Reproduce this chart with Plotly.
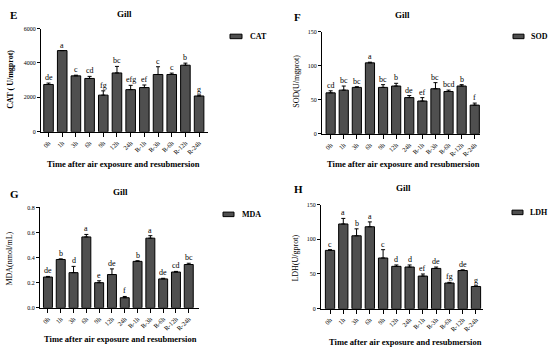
import plotly.graph_objects as go

categories = ["0h", "1h", "3h", "6h", "9h", "12h", "24h", "R-1h", "R-3h", "R-6h", "R-12h", "R-24h"]

cat_vals = [2750, 4720, 3250, 3100, 2130, 3420, 2450, 2570, 3330, 3330, 3870, 2080]
cat_err = [80, 0, 40, 120, 250, 380, 250, 150, 450, 80, 120, 60]
cat_sig = ["de", "a", "c", "cd", "fg", "bc", "efg", "ef", "c", "c", "b", "g"]

sod_vals = [60, 64, 68, 104, 68, 70, 53, 48, 66, 62, 70, 42]
sod_err = [3, 6, 1, 1, 4, 4, 3, 5, 9, 2, 2, 3]
sod_sig = ["cd", "bc", "bc", "a", "bc", "b", "de", "ef", "bc", "bcd", "b", "f"]

mda_vals = [0.245, 0.385, 0.28, 0.565, 0.2, 0.265, 0.08, 0.37, 0.555, 0.23, 0.285, 0.345]
mda_err = [0.005, 0.005, 0.05, 0.02, 0.015, 0.045, 0.01, 0.005, 0.02, 0.005, 0.005, 0.01]
mda_sig = ["de", "b", "d", "a", "e", "de", "f", "b", "a", "de", "cd", "bc"]

ldh_vals = [84, 122, 105, 118, 73, 61, 60, 47, 58, 37, 55, 32]
ldh_err = [1, 8, 10, 7, 12, 2, 3, 3, 2, 1, 1, 1]
ldh_sig = ["c", "a", "b", "a", "c", "d", "d", "ef", "de", "fg", "de", "g"]

series_names = ["CAT", "SOD", "MDA", "LDH"]

W, H = 550, 354
FONT = "Liberation Serif"
BAR = "#4f4f4f"

panels = [
    dict(name=series_names[0], vals=cat_vals, err=cat_err, sig=cat_sig, ytitle="CAT ( U/mgprot)", ybold=True,
         yr=[0, 6000], tv=[0, 2000, 4000, 6000], tt=["0", "2000", "4000", "6000"],
         dx=(41, 208), dy=(26, 131), xr=[-0.55, 11.65], letter="E", lp=(8, 12),
         title=(124, 11), ytp=(11, 78), xtp=(123, 164), leg=(230, 242, 34, 248)),
    dict(name=series_names[1], vals=sod_vals, err=sod_err, sig=sod_sig, ytitle="SOD(U/mgprot)", ybold=False,
         yr=[0, 150], tv=[0, 50, 100, 150], tt=["0", "50", "100", "150"],
         dx=(322, 480), dy=(29, 133), xr=[-0.66, 11.4], letter="F", lp=(292, 14),
         title=(402, 12), ytp=(297, 80), xtp=(403, 164), leg=(513, 524, 34, 529)),
    dict(name=series_names[2], vals=mda_vals, err=mda_err, sig=mda_sig, ytitle="MDA(nmol/mL)", ybold=False,
         yr=[0, 0.8], tv=[0, 0.2, 0.4, 0.6, 0.8], tt=["0.0", "0.2", "0.4", "0.6", "0.8"],
         dx=(40, 199), dy=(208, 310), xr=[-0.62, 11.8], letter="G", lp=(8, 194),
         title=(120, 192), ytp=(10, 260), xtp=(120, 342), leg=(223, 234, 215, 240)),
    dict(name=series_names[3], vals=ldh_vals, err=ldh_err, sig=ldh_sig, ytitle="LDH(U/gprot)", ybold=False,
         yr=[0, 150], tv=[0, 50, 100, 150], tt=["0", "50", "100", "150"],
         dx=(321, 483), dy=(205, 311), xr=[-0.68, 11.53], letter="H", lp=(292, 189),
         title=(403, 188), ytp=(296, 260), xtp=(405, 345), leg=(512, 523, 213, 528)),
]

fig = go.Figure()
annotations = []
shapes = []
layout = {}

for i, p in enumerate(panels):
    k = "" if i == 0 else str(i + 1)
    xa, ya = "x" + k, "y" + k
    fig.add_trace(go.Bar(
        x=categories, y=p["vals"], name=p["name"], xaxis=xa, yaxis=ya,
        marker=dict(color=BAR, line=dict(color="black", width=1)),
        error_y=dict(type="data", symmetric=False, array=p["err"],
                     arrayminus=[0] * len(p["err"]), color="black", thickness=1, width=2),
        showlegend=False,
    ))
    layout["xaxis" + k] = dict(
        domain=[p["dx"][0] / W, p["dx"][1] / W], anchor=ya, type="category",
        range=p["xr"], showline=True, linecolor="black", linewidth=1,
        ticks="outside", ticklen=4, tickcolor="black", tickangle=-45,
        tickfont=dict(family=FONT, size=6.5, color="black"), showgrid=False, zeroline=False,
    )
    layout["yaxis" + k] = dict(
        domain=[1 - p["dy"][1] / H, 1 - p["dy"][0] / H], anchor=xa,
        range=p["yr"], tickvals=p["tv"], ticktext=p["tt"],
        showline=True, linecolor="black", linewidth=1,
        ticks="outside", ticklen=3, tickcolor="black",
        tickfont=dict(family=FONT, size=6, color="black"), showgrid=False, zeroline=False,
    )
    # legend key (box + label)
    x0, x1, yc, tx = p["leg"]
    shapes.append(dict(type="rect", xref="paper", yref="paper",
                       x0=x0 / W, x1=x1 / W, y0=1 - (yc + 2.3) / H, y1=1 - (yc - 2.3) / H,
                       fillcolor=BAR, line=dict(color="black", width=1)))
    annotations.append(dict(x=tx / W, y=1 - yc / H, xref="paper", yref="paper",
                            text="<b>%s</b>" % p["name"], showarrow=False, xanchor="left",
                            yanchor="middle", font=dict(family=FONT, size=8, color="black")))
    # significance letters
    for c, v, e, s in zip(categories, p["vals"], p["err"], p["sig"]):
        annotations.append(dict(
            x=c, y=v + e, xref=xa, yref=ya, text=s, showarrow=False,
            yanchor="bottom", yshift=-1, font=dict(family=FONT, size=8, color="black"),
        ))
    # panel letter
    annotations.append(dict(x=p["lp"][0] / W, y=1 - p["lp"][1] / H, xref="paper", yref="paper",
                            text="<b>%s</b>" % p["letter"], showarrow=False, xanchor="left",
                            yanchor="middle", font=dict(family=FONT, size=11, color="black")))
    # title
    annotations.append(dict(x=p["title"][0] / W, y=1 - p["title"][1] / H, xref="paper", yref="paper",
                            text="<b>Gill</b>", showarrow=False, xanchor="center",
                            yanchor="middle", font=dict(family=FONT, size=9, color="black")))
    # y title
    yt = "<b>%s</b>" % p["ytitle"] if p["ybold"] else p["ytitle"]
    annotations.append(dict(x=p["ytp"][0] / W, y=1 - p["ytp"][1] / H, xref="paper", yref="paper",
                            text=yt, textangle=-90, showarrow=False, xanchor="center",
                            yanchor="middle", font=dict(family=FONT, size=8, color="black")))
    # x title
    annotations.append(dict(x=p["xtp"][0] / W, y=1 - p["xtp"][1] / H, xref="paper", yref="paper",
                            text="<b>Time after air exposure and resubmersion</b>", showarrow=False,
                            xanchor="center", yanchor="middle",
                            font=dict(family=FONT, size=8.5, color="black")))

fig.update_layout(
    width=W, height=H, margin=dict(l=0, r=0, t=0, b=0),
    paper_bgcolor="white", plot_bgcolor="white",
    bargap=0.3, annotations=annotations, shapes=shapes,
    font=dict(family=FONT, color="black"),
    hovermode=False,
    **layout,
)

fig.write_html("out.html", config={"displayModeBar": False, "staticPlot": True},
               post_script="document.body.style.margin='0';document.body.style.padding='0';")
